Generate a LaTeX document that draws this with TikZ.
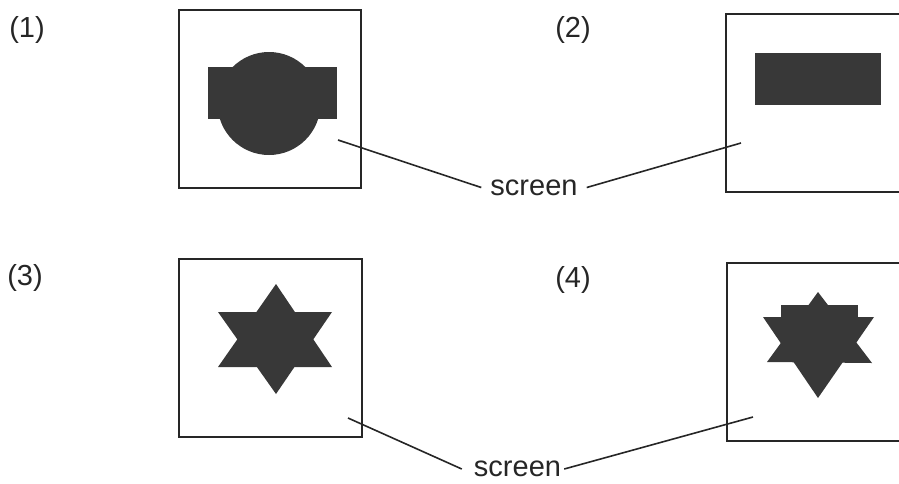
\documentclass[tikz,border=0pt]{standalone}
\usepackage{fontspec}
\setmainfont{Liberation Sans}
\begin{document}
\begin{tikzpicture}[x=1pt,y=-1pt,
  box/.style={draw=black!85,line width=1.6pt,minimum width=#1,minimum height=178pt,inner sep=0pt},
  shapefill/.style={fill=black!78,draw=none},
  lead/.style={draw=black!85,line width=1.6pt},
  lbl/.style={font=\fontsize{29}{34}\selectfont,text=black!85,inner sep=0pt},
  scr/.style={font=\fontsize{29}{34}\selectfont,text=black!85,inner sep=9pt}]
\useasboundingbox (0,0) rectangle (899,483);
% boxes
\node[box=182pt] (b1) at (270,99) {};
\node[box=190pt] (b2) at (821,103) {};
\node[box=183pt] (b3) at (270.5,348) {};
\node[box=190pt] (b4) at (822,352) {};
% labels
\node[lbl] (l1) at (27,30) {(1)};
\node[lbl] (l2) at (573,30) {(2)};
\node[lbl] (l3) at (25,278) {(3)};
\node[lbl] (l4) at (573,280) {(4)};
% shape 1
\fill[shapefill] (269,103.5) circle (51.5);
\fill[shapefill] (208,67) rectangle (337,119);
% shape 2
\fill[shapefill] (755,53) rectangle (881,105);
% shape 3
\fill[shapefill] (276,284) -- (218,367) -- (332,367) -- cycle;
\fill[shapefill] (276,394) -- (218,312) -- (332,312) -- cycle;
% shape 4
\fill[shapefill] (818,292) -- (767,362) -- (872,363) -- cycle;
\fill[shapefill] (818,398) -- (763,317) -- (874,317) -- cycle;
\fill[shapefill] (781,305) rectangle (858,335);
% screen labels
\node[scr] (s1) at (534,187.5) {screen};
\node[scr] (s2) at (517.5,469) {screen};
\coordinate (p1) at (338,140);
\coordinate (p2) at (741,143);
\coordinate (p3) at (348,418);
\coordinate (p4) at (753,417);
\draw[lead] (p1) -- (s1.west);
\draw[lead] (s1.east) -- (p2);
\draw[lead] (p3) -- ([xshift=-3pt]s2.west);
\draw[lead] ([xshift=-6pt]s2.east) -- (p4);
\end{tikzpicture}
\end{document}
